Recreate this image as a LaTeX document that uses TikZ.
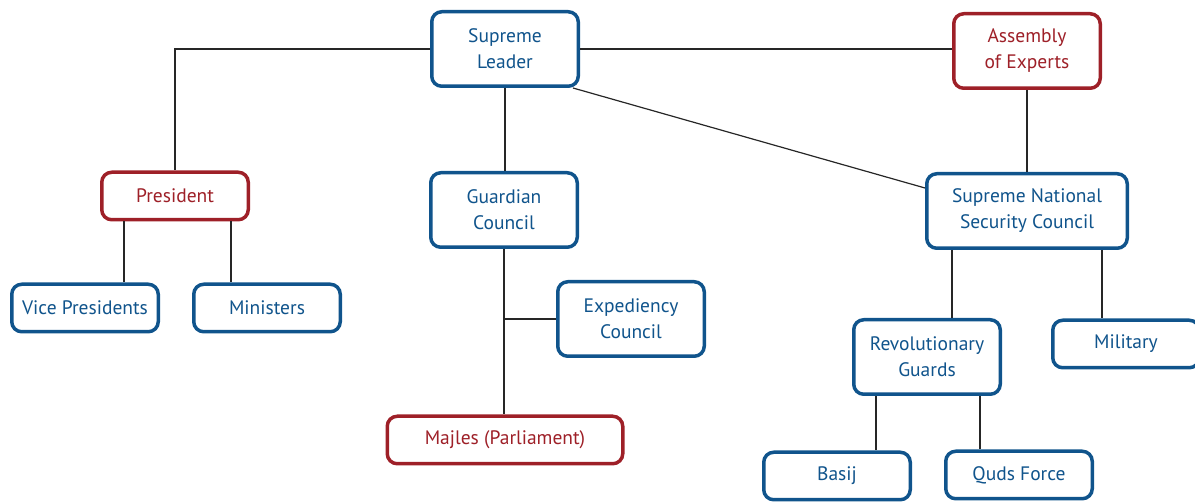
\documentclass[tikz,border=0pt]{standalone}
\usepackage{fontspec}
\setmainfont{PT Sans}
\usetikzlibrary{positioning}
\definecolor{orgblue}{RGB}{16,84,140}
\definecolor{orgred}{RGB}{158,32,40}

\begin{document}
\begin{tikzpicture}[
        x=1pt, y=-1pt,
        box/.style={draw=orgblue, line width=3.5pt, rounded corners=10pt, fill=white, text=orgblue, align=center, font=\fontsize{19.5}{26}\selectfont, minimum width=146.5pt, inner sep=0pt},
        tall/.style={minimum height=74.5pt},
        flat/.style={minimum height=47.5pt},
        redbox/.style={box, draw=orgred, text=orgred},
        link/.style={draw, line width=1.2pt, black!85}
    ]

    \useasboundingbox (0,0) rectangle (1195,502);

    % Top row
    \node[box, tall] (leader) at (505, 49) {Supreme\\Leader};
    \node[redbox, tall] (assembly) at (1027, 51) {Assembly\\of Experts};

    % Second row
    \node[redbox, flat] (president) at (175, 196) {President};
    \node[box, tall] (guardian) at (504, 210) {Guardian\\Council};
    \node[box, tall, minimum width=200.5pt] (security) at (1027, 211) {Supreme National\\Security Council};

    % Third row
    \node[box, flat] (vicepres) at (85, 308) {Vice Presidents};
    \node[box, flat] (ministers) at (267, 308) {Ministers};
    \node[box, tall] (expediency) at (631, 319) {Expediency\\Council};
    \node[box, tall] (revguards) at (927, 357) {Revolutionary\\Guards};
    \node[box, flat] (military) at (1126, 344) {Military};

    % Bottom row
    \node[redbox, flat, minimum width=235.5pt] (majles) at (505, 440) {Majles (Parliament)};
    \node[box, flat] (basij) at (837, 476) {Basij};
    \node[box, flat] (quds) at (1019, 475) {Quds Force};

    % Edges from the leader
    \draw[link] (leader.west) -| (president.north);
    \draw[link] (leader.east) -- (leader.east -| assembly.west);
    \draw[link] (leader.south) -- (leader.south |- guardian.north);
    \draw[link] ([xshift=-7pt]leader.south east) -- ([yshift=-16pt]security.north west);
    \draw[link] (assembly.south) -- (assembly.south |- security.north);

    % Edges below the president
    \draw[link] ([xshift=-51pt]president.south) -- ([xshift=-51pt]president.south |- vicepres.north);
    \draw[link] ([xshift=56pt]president.south) -- ([xshift=56pt]president.south |- ministers.north);

    % Edges below the guardian council
    \draw[link] (guardian.south) -- (guardian.south |- majles.north);
    \draw[link] (expediency.west) -- (expediency.west -| guardian.south);

    % Edges below the security council
    \draw[link] ([xshift=-75pt]security.south) -- ([xshift=-75pt]security.south |- revguards.north);
    \draw[link] ([xshift=75pt]security.south) -- ([xshift=75pt]security.south |- military.north);
    \draw[link] ([xshift=-51pt]revguards.south) -- ([xshift=-51pt]revguards.south |- basij.north);
    \draw[link] ([xshift=53pt]revguards.south) -- ([xshift=53pt]revguards.south |- quds.north);

\end{tikzpicture}
\end{document}
